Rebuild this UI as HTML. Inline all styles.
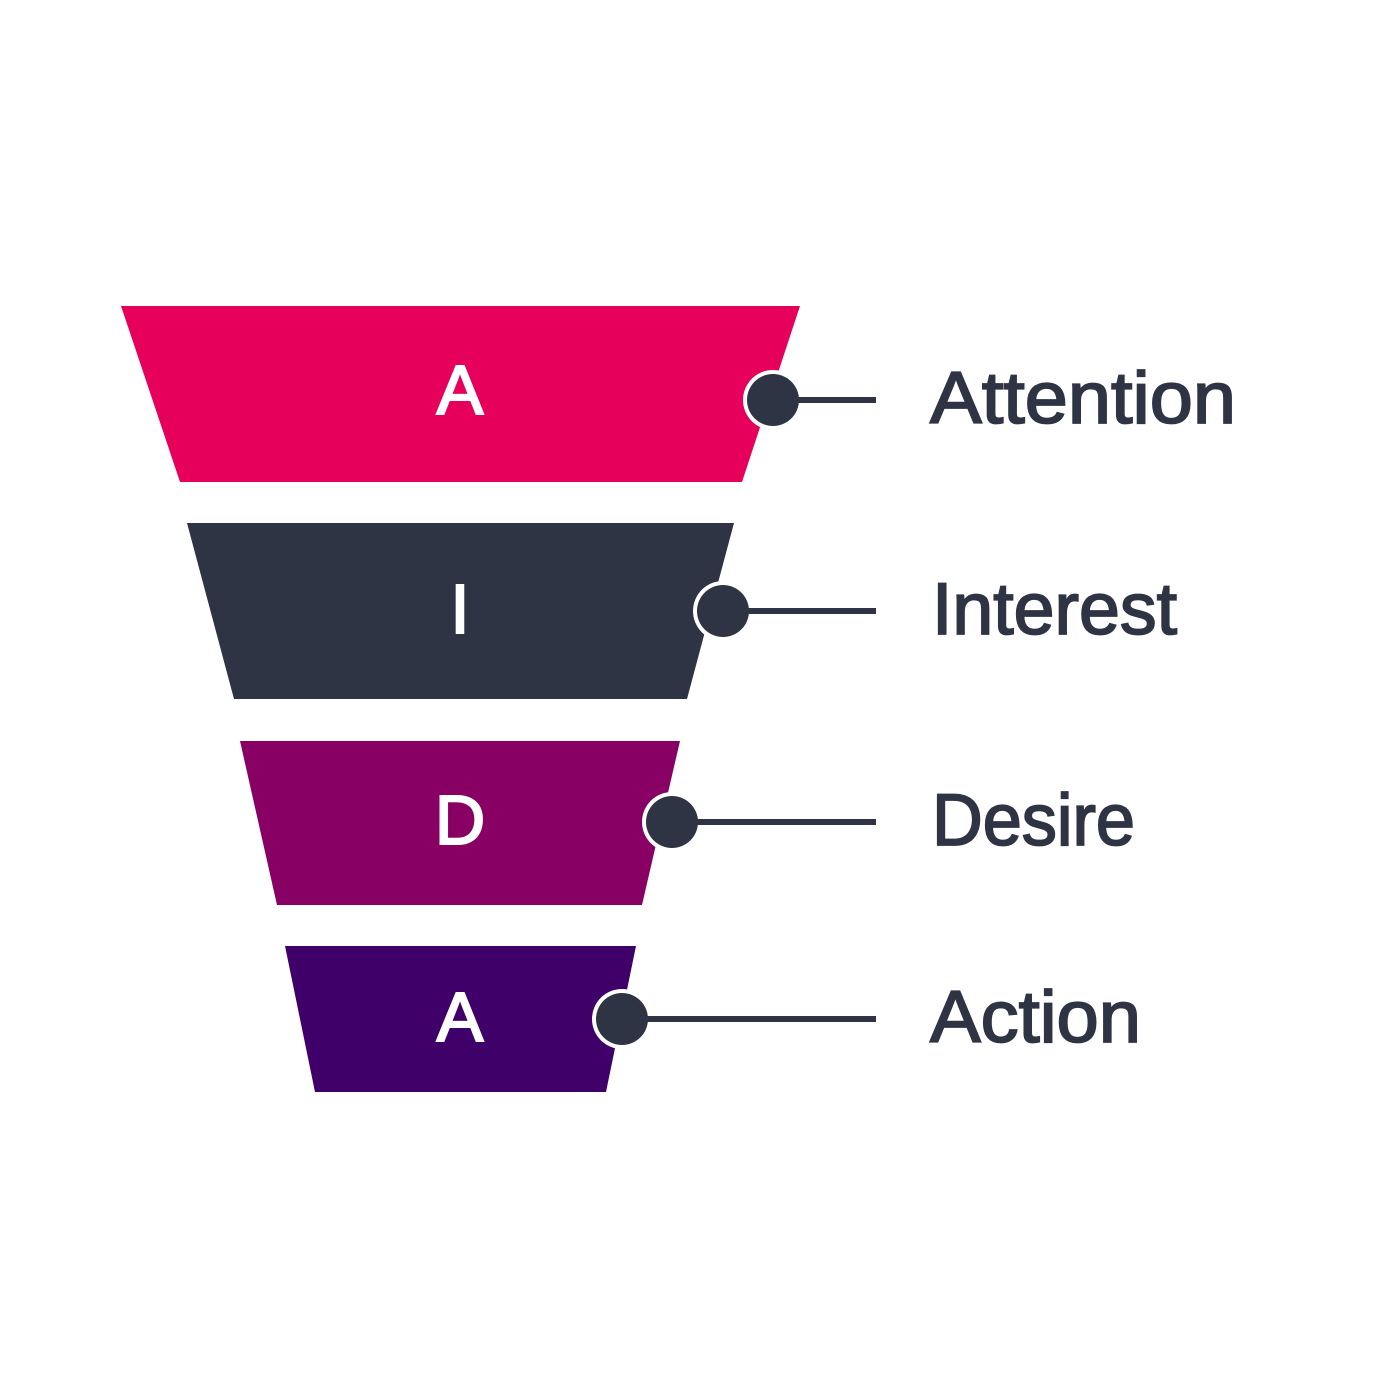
<!DOCTYPE html>
<html><head><meta charset="utf-8"><style>html,body{margin:0;padding:0;background:#fff;}svg{display:block}</style></head>
<body>
<svg width="1400" height="1400" viewBox="0 0 1400 1400" xmlns="http://www.w3.org/2000/svg">
<rect width="1400" height="1400" fill="#fff"/>
<polygon points="121,306 800,306 742,482 180,482" fill="#E6005C"/>
<polygon points="187,523 734,523 687,699 234,699" fill="#2E3444"/>
<polygon points="240,741 680,741 642,905 277,905" fill="#880063"/>
<polygon points="285,946 636,946 606,1092 315,1092" fill="#40006A"/>
<g font-family="Liberation Sans, sans-serif" fill="#fff" stroke="#fff" stroke-width="2" font-size="70" text-anchor="middle">
<text x="460" y="414">A</text>
<text x="460" y="633">I</text>
<text x="460" y="844">D</text>
<text x="460" y="1041">A</text>
</g>
<g fill="#fff">
<circle cx="773" cy="400" r="30"/>
<circle cx="723" cy="611" r="30"/>
<circle cx="672" cy="822" r="30"/>
<circle cx="622" cy="1019" r="30"/>
</g>
<g stroke="#2E3444" stroke-width="6">
<line x1="773" y1="400" x2="876" y2="400"/>
<line x1="723" y1="611" x2="876" y2="611"/>
<line x1="672" y1="822" x2="876" y2="822"/>
<line x1="622" y1="1019" x2="876" y2="1019"/>
</g>
<g fill="#2E3444">
<circle cx="773" cy="400" r="26"/>
<circle cx="723" cy="611" r="26"/>
<circle cx="672" cy="822" r="26"/>
<circle cx="622" cy="1019" r="26"/>
</g>
<g font-family="Liberation Sans, sans-serif" fill="#2E3444" stroke="#2E3444" stroke-width="1.8" font-size="73">
<text x="930" y="423" textLength="306" lengthAdjust="spacingAndGlyphs">Attention</text>
<text x="932" y="634" textLength="245" lengthAdjust="spacingAndGlyphs">Interest</text>
<text x="932" y="845" textLength="203" lengthAdjust="spacingAndGlyphs">Desire</text>
<text x="930" y="1042" textLength="211" lengthAdjust="spacingAndGlyphs">Action</text>
</g>
</svg>
</body></html>
